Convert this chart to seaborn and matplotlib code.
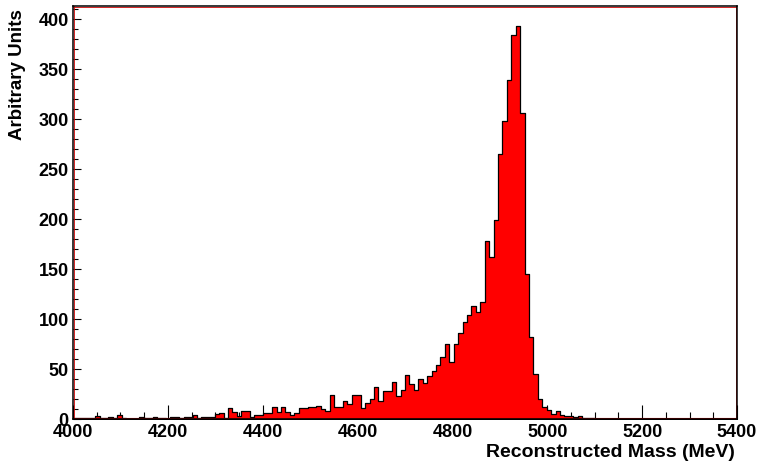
import numpy as np
import pandas as pd
import matplotlib
matplotlib.use("Agg")
import matplotlib.pyplot as plt
from matplotlib.ticker import MultipleLocator
import seaborn as sns

# ---- data ----
x_min, x_max, n_bins = 4000, 5400, 150
counts_low = [1, 1, 1, 1, 1, 3, 1, 1, 2, 1, 4, 1, 0, 0, 0, 2, 1, 1, 2, 1,
              1, 0, 2, 2, 1]
counts_rise1 = [2, 2, 4, 1, 2, 2, 2, 5, 6, 1, 11, 7, 3, 8, 8, 2, 4, 4, 6, 6,
                12, 7, 12, 7, 4, 6]
counts_rise2 = [10.7, 10.7, 12, 12, 12.7, 9.7, 8, 23.7, 12.3, 11.7, 17.7, 14.7,
                23.7, 23.7, 10.7, 15.7, 19.7, 32.3, 17.7, 27.7, 27.7, 37.3,
                22.7, 29.3, 43.7, 34.7, 29.3, 39.7]
counts_peak = [35.7, 42.7, 48.3, 53.7, 61.7, 74.7, 56.7, 74.7, 86.3, 96.7,
               104, 113, 106.7, 116.7, 178.3, 162.3, 198.7, 265, 297.7, 339,
               384, 393, 306, 145, 81.7, 44.5]
counts_tail = [20, 11.7, 8.5, 4.5, 7.7, 4.3, 3.3, 2.7, 1.7, 2.7, 1, 1, 0.5]
counts = counts_low + counts_rise1 + counts_rise2 + counts_peak + counts_tail
counts = counts + [0] * (n_bins - len(counts))

x_label = "Reconstructed Mass (MeV)"
y_label = "Arbitrary Units"

edges = np.linspace(x_min, x_max, n_bins + 1)
centers = 0.5 * (edges[:-1] + edges[1:])
df = pd.DataFrame({"mass": centers, "w": counts})

sns.set_style("white")
plt.rcParams["font.family"] = ["Liberation Sans", "DejaVu Sans"]
plt.rcParams["text.color"] = "black"
plt.rcParams["xtick.color"] = "black"
plt.rcParams["ytick.color"] = "black"

fig = plt.figure(figsize=(7.57, 4.64), dpi=100)
ax = fig.add_axes([73 / 757, 1 - 420 / 464, (737 - 73) / 757, (420 - 7) / 464])

sns.histplot(data=df, x="mass", weights="w", bins=n_bins,
             binrange=(x_min, x_max), element="step",
             fill=True, color="red", alpha=1.0, edgecolor="black",
             linewidth=0.9, ax=ax)

ymax = 1.05 * max(counts)
ax.set_xlim(x_min, x_max)
ax.set_ylim(0, ymax)

# thin red inner frame like the ROOT canvas (below the tick marks)
ax.axhline(ymax - 1.3, color="#cc0000", lw=0.6, zorder=2.2)
ax.axhline(0.7, color="#dd0000", lw=0.8, zorder=1.5)
ax.axvline(x_min + 2.6, color="#cc0000", lw=0.6, zorder=2.2)
ax.axvline(x_max - 2.6, color="#cc0000", lw=0.6, zorder=2.2)

for s in ax.spines.values():
    s.set_color("black")
    s.set_linewidth(1.1)
    s.set_visible(True)

ax.xaxis.set_major_locator(MultipleLocator(200))
ax.xaxis.set_minor_locator(MultipleLocator(50))
ax.yaxis.set_major_locator(MultipleLocator(50))
ax.yaxis.set_minor_locator(MultipleLocator(10))
ax.tick_params(axis="both", which="both", direction="in", bottom=True,
               left=True, top=False, right=False, color="black", width=0.8)
ax.tick_params(axis="x", which="major", length=10, pad=3, labelsize=13)
ax.tick_params(axis="x", which="minor", length=5)
ax.tick_params(axis="y", which="major", length=6, pad=3, labelsize=13)
ax.tick_params(axis="y", which="minor", length=3.5)
for lab in ax.get_xticklabels() + ax.get_yticklabels():
    lab.set_fontweight("bold")
    lab.set_color("black")

ax.set_xlabel("")
ax.set_ylabel("")
fig.text(735 / 757, 1 - 453 / 464, x_label, ha="right", va="center",
         fontsize=14, fontweight="bold", color="black")
fig.text(18 / 757, 1 - 9 / 464, y_label, ha="center", va="top",
         rotation=90, fontsize=13.5, fontweight="bold", color="black")

fig.savefig("out.png", dpi=100, facecolor="white")
